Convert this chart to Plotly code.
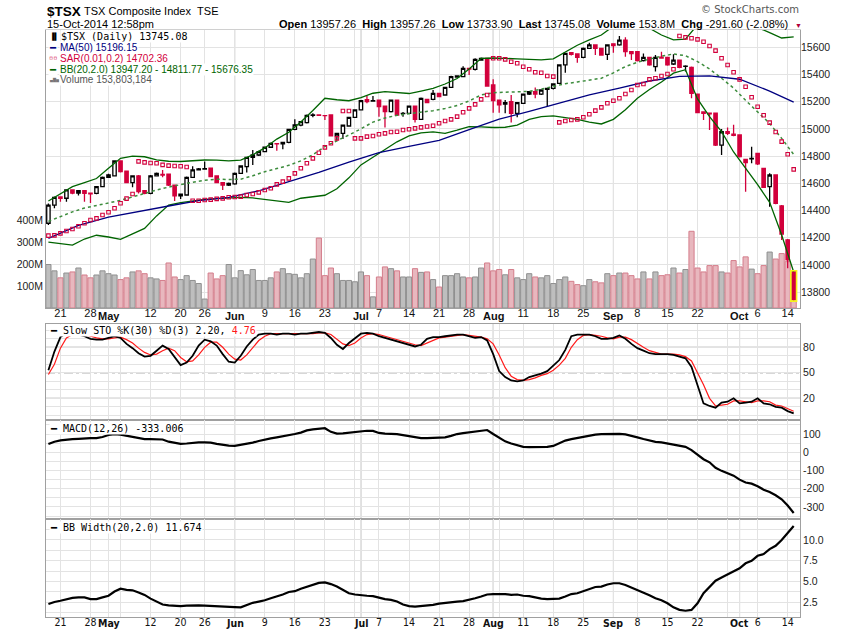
import pandas as pd
import plotly.graph_objects as go

# TSX trading days shown on the chart (16-Apr-2014 .. 15-Oct-2014)
holidays = ['2014-04-18', '2014-05-19', '2014-07-01', '2014-08-04', '2014-09-01', '2014-10-13']
dates = [d for d in pd.bdate_range('2014-04-16', '2014-10-15') if d.strftime('%Y-%m-%d') not in holidays]
pos = {d.strftime('%Y-%m-%d'): i for i, d in enumerate(dates)}
days = list(range(len(dates)))

tick_dates = ['2014-04-21', '2014-04-28', '2014-05-01', '2014-05-12', '2014-05-20', '2014-05-26',
              '2014-06-02', '2014-06-09', '2014-06-16', '2014-06-23', '2014-07-02', '2014-07-07',
              '2014-07-14', '2014-07-21', '2014-07-28', '2014-08-01', '2014-08-11', '2014-08-18',
              '2014-08-25', '2014-09-02', '2014-09-08', '2014-09-15', '2014-09-22', '2014-10-01',
              '2014-10-06', '2014-10-14']
tick_labels = ['21', '28', 'May', '12', '20', '26', 'Jun', '9', '16', '23', 'Jul', '7', '14', '21', '28',
               'Aug', '11', '18', '25', 'Sep', '8', '15', '22', 'Oct', '6', '14']
months = ['May', 'Jun', 'Jul', 'Aug', 'Sep', 'Oct']

# daily OHLC
opens = [14306, 14440, 14500, 14490, 14551, 14527, 14545, 14528, 14526, 14575,
         14644, 14655, 14764, 14690, 14605, 14654, 14545, 14526, 14654, 14665,
         14668, 14587, 14507, 14514, 14644, 14698, 14705, 14712, 14654, 14605,
         14587, 14595, 14673, 14722, 14791, 14808, 14833, 14865, 14892, 14889,
         14901, 14997, 15028, 15046, 15100, 15102, 15098, 15102, 14948, 14967,
         15021, 15085, 15139, 15215, 15205, 15212, 15168, 15127, 15212, 15112,
         15114, 15168, 15070, 15217, 15217, 15261, 15249, 15305, 15380, 15384,
         15445, 15438, 15505, 15519, 15323, 15212, 15183, 15200, 15114, 15188,
         15256, 15273, 15256, 15290, 15298, 15335, 15470, 15560, 15551, 15526,
         15592, 15617, 15592, 15548, 15625, 15617, 15653, 15568, 15568, 15502,
         15526, 15457, 15528, 15526, 15477, 15506, 15460, 15452, 15256, 15125,
         15115, 15115, 14881, 14980, 14962, 14955, 14776, 14780, 14820, 14710,
         14575, 14661, 14433, 14183, 13957.26]
highs = [14452, 14502, 14505, 14556, 14555, 14548, 14550, 14530, 14580, 14650,
         14670, 14770, 14766, 14692, 14658, 14660, 14548, 14660, 14680, 14698,
         14670, 14590, 14524, 14650, 14725, 14712, 14760, 14715, 14656, 14608,
         14605, 14680, 14730, 14795, 14845, 14840, 14870, 14900, 14895, 14905,
         15000, 15070, 15058, 15105, 15115, 15106, 15100, 15108, 14972, 15033,
         15090, 15145, 15212, 15242, 15242, 15215, 15170, 15215, 15215, 15125,
         15172, 15170, 15230, 15220, 15286, 15265, 15310, 15390, 15395, 15460,
         15450, 15520, 15525, 15522, 15364, 15215, 15212, 15249, 15198, 15260,
         15278, 15305, 15290, 15300, 15335, 15475, 15560, 15565, 15555, 15598,
         15634, 15620, 15595, 15622, 15630, 15683, 15673, 15572, 15572, 15555,
         15530, 15543, 15568, 15530, 15548, 15510, 15468, 15458, 15260, 15130,
         15120, 15118, 15000, 15011, 15030, 14960, 14780, 14869, 14825, 14715,
         14673, 14665, 14440, 14190, 13957.26]
lows = [14294, 14416, 14465, 14465, 14520, 14510, 14465, 14455, 14520, 14570,
        14640, 14650, 14680, 14600, 14570, 14525, 14520, 14520, 14650, 14644,
        14580, 14470, 14485, 14510, 14640, 14695, 14700, 14645, 14600, 14550,
        14580, 14590, 14668, 14680, 14735, 14800, 14828, 14860, 14840, 14850,
        14895, 14990, 15020, 15040, 15085, 15095, 15065, 14945, 14918, 14926,
        15015, 15080, 15135, 15188, 15200, 15090, 15011, 15120, 15095, 15090,
        15110, 15046, 15065, 15188, 15210, 15232, 15245, 15300, 15375, 15380,
        15396, 15430, 15500, 15310, 15119, 15119, 15115, 15046, 15085, 15183,
        15250, 15225, 15250, 15168, 15290, 15330, 15413, 15540, 15487, 15520,
        15588, 15543, 15538, 15506, 15560, 15612, 15531, 15506, 15495, 15495,
        15465, 15421, 15515, 15465, 15470, 15445, 15421, 15225, 15115, 15065,
        14992, 14875, 14808, 14955, 14945, 14790, 14538, 14747, 14735, 14565,
        14428, 14445, 14183, 13975, 13733.90]
closes = [14440, 14497, 14490, 14551, 14527, 14545, 14526, 14522, 14575, 14644,
          14661, 14764, 14685, 14605, 14654, 14538, 14526, 14654, 14673, 14661,
          14587, 14507, 14521, 14644, 14698, 14705, 14707, 14649, 14605, 14587,
          14600, 14673, 14727, 14791, 14808, 14833, 14865, 14894, 14889, 14901,
          14997, 15029, 15053, 15100, 15102, 15100, 15097, 14948, 14967, 15028,
          15085, 15139, 15207, 15200, 15207, 15163, 15127, 15212, 15102, 15114,
          15168, 15070, 15225, 15193, 15261, 15237, 15305, 15384, 15390, 15445,
          15440, 15511, 15519, 15315, 15207, 15176, 15193, 15114, 15193, 15256,
          15273, 15256, 15286, 15298, 15330, 15470, 15555, 15548, 15526, 15592,
          15617, 15592, 15543, 15617, 15612, 15653, 15568, 15553, 15502, 15526,
          15470, 15526, 15521, 15470, 15506, 15452, 15462, 15262, 15119, 15115,
          15110, 14881, 14979, 14967, 14953, 14796, 14752, 14783, 14742, 14570,
          14661, 14453, 14227, 14036.68, 13745.08]
volume_m = [199, 170, 138, 160, 165, 183, 151, 138, 151, 170,
            157, 151, 130, 138, 165, 170, 157, 138, 133, 126,
            206, 142, 130, 148, 126, 112, 41, 160, 133, 148,
            199, 138, 171, 152, 176, 126, 126, 138, 165, 180,
            157, 154, 138, 157, 224, 320, 148, 183, 157, 126,
            126, 120, 165, 148, 51, 142, 188, 180, 170, 142,
            142, 180, 163, 165, 130, 96, 148, 148, 157, 142,
            138, 142, 183, 206, 170, 176, 152, 176, 138, 130,
            157, 142, 138, 148, 112, 130, 142, 122, 107, 102,
            130, 120, 115, 157, 148, 160, 160, 148, 133, 165,
            133, 165, 148, 152, 183, 160, 176, 351, 183, 165,
            194, 194, 165, 160, 217, 188, 234, 178, 157, 194,
            256, 224, 249, 212, 153.803184]

# overlays
ma_days = list(range(0, 125, 5)) + [124]
ma50 = [14195, 14290, 14352, 14395, 14433, 14472, 14497, 14545, 14612, 14680,
        14755, 14825, 14872, 14916, 14994, 15072, 15128, 15188, 15250, 15300,
        15352, 15386, 15390, 15365, 15278, 15196.15]

bb_days = list(range(0, 125, 2))
bb_mid = [14320, 14355, 14390, 14418, 14435, 14455, 14475, 14500, 14528, 14550,
          14572, 14592, 14608, 14622, 14630, 14628, 14630, 14655, 14685, 14708,
          14732, 14765, 14810, 14870, 14910, 14955, 15000, 15050, 15080, 15100,
          15112, 15122, 15134, 15150, 15172, 15205, 15250, 15266, 15270, 15270,
          15276, 15292, 15312, 15332, 15345, 15358, 15372, 15412, 15458, 15490,
          15515, 15535, 15551, 15538, 15495, 15440, 15372, 15300, 15210, 15125,
          15040, 14930, 14811.77]
bb_upper = [14470, 14525, 14575, 14605, 14635, 14710, 14784, 14800, 14795, 14772,
            14762, 14760, 14765, 14771, 14770, 14765, 14770, 14810, 14860, 14925,
            14975, 15050, 15135, 15225, 15214, 15207, 15230, 15262, 15274, 15265,
            15260, 15278, 15298, 15330, 15370, 15440, 15519, 15521, 15520, 15515,
            15511, 15508, 15515, 15565, 15615, 15655, 15690, 15755, 15780, 15775,
            15740, 15690, 15654, 15660, 15765, 15800, 15800, 15800, 15790, 15745,
            15708, 15668, 15676.35]
bb_lower = [14168, 14155, 14146, 14190, 14218, 14205, 14188, 14228, 14268, 14360,
            14440, 14458, 14470, 14482, 14487, 14492, 14497, 14492, 14482, 14470,
            14460, 14490, 14500, 14512, 14560, 14640, 14735, 14793, 14850, 14905,
            14948, 14970, 14978, 14967, 14990, 15016, 15015, 15010, 15012, 15028,
            15070, 15090, 15095, 15085, 15070, 15050, 15036, 15070, 15140, 15225,
            15290, 15345, 15410, 15435, 15220, 15090, 14980, 14830, 14710, 14590,
            14460, 14220, 13947.20]

sar = [14215, 14217, 14232, 14249, 14264, 14284, 14306, 14330, 14342, 14367,
       14387, 14416, 14453, 14487, 14521, 14761, 14754, 14749, 14747, 14735,
       14730, 14727, 14725, 14720, 14472, 14472, 14477, 14480, 14485, 14489,
       14497, 14499, 14502, 14514, 14521, 14533, 14551, 14563, 14592, 14612,
       14636, 14673, 14710, 14747, 14783, 14825, 14864, 14894, 14930, 15131,
       15131, 14930, 14930, 14943, 14948, 14960, 14967, 14977, 14979, 14992,
       14997, 15004, 15011, 15018, 15023, 15041, 15058, 15070, 15090, 15122,
       15151, 15180, 15217, 15249, 15519, 15519, 15511, 15494, 15482, 15457,
       15438, 15416, 15413, 15389, 15384, 15048, 15058, 15065, 15070, 15085,
       15107, 15134, 15158, 15188, 15207, 15225, 15256, 15286, 15323, 15330,
       15364, 15372, 15389, 15403, 15438, 15683, 15673, 15666, 15658, 15641,
       15609, 15575, 15519, 15470, 15416, 15364, 15310, 15232, 15163, 15100,
       15046, 14977, 14906, 14813, 14702.36]

# indicator panels
sto_k = [53, 75, 92, 97, 96, 95, 93, 90, 89, 89,
         91, 93, 91, 84, 79, 73, 69, 70, 76, 82,
         78, 68, 59, 62, 70, 82, 89, 87, 82, 72,
         63, 62, 70, 81, 89, 95, 96, 96, 95, 96,
         96, 95, 96, 96, 97, 98, 97, 91, 83, 78,
         85, 91, 96, 97, 96, 93, 91, 89, 87, 85,
         83, 81, 83, 90, 92, 92, 93, 94, 95, 95,
         93, 91, 92, 88, 72, 52, 45, 41, 40, 41,
         45, 47, 49, 52, 58, 65, 77, 93, 95, 95,
         95, 93, 90, 90, 91, 94, 90, 84, 79, 76,
         73, 72, 72, 72, 71, 69, 67, 57, 36, 14,
         11, 9, 15, 16, 20, 14, 15, 16, 20, 14,
         13, 10, 9, 5, 2.20]
sto_d = [48, 60, 79, 91, 95, 96, 95, 93, 91, 90,
         90, 91, 92, 89, 85, 79, 74, 71, 72, 76,
         79, 76, 68, 63, 64, 71, 80, 86, 86, 80,
         72, 66, 65, 71, 80, 88, 93, 96, 96, 96,
         96, 96, 96, 96, 96, 97, 97, 95, 90, 84,
         82, 85, 91, 95, 96, 95, 93, 91, 89, 87,
         85, 83, 82, 85, 88, 91, 92, 93, 94, 95,
         94, 93, 92, 90, 84, 71, 56, 46, 42, 41,
         42, 44, 47, 49, 53, 59, 67, 80, 89, 94,
         95, 94, 93, 91, 90, 92, 92, 89, 84, 80,
         76, 74, 72, 72, 72, 71, 69, 64, 50, 36,
         20, 11, 12, 13, 17, 17, 16, 15, 17, 17,
         16, 12, 11, 8, 4.76]
macd = [45, 58, 65, 70, 72, 74, 77, 78, 78, 84,
        95, 100, 97, 91, 84, 77, 72, 72, 72, 70,
        58, 50, 46, 48, 52, 54, 54, 53, 46, 40,
        36, 35, 40, 46, 53, 62, 71, 76, 82, 87,
        92, 100, 108, 120, 126, 130, 132, 112, 102, 104,
        108, 112, 116, 118, 117, 106, 102, 101, 99, 94,
        88, 82, 78, 78, 79, 80, 82, 90, 100, 105,
        110, 113, 118, 122, 100, 80, 60, 48, 38, 30,
        28, 28, 28, 30, 35, 50, 64, 72, 78, 86,
        92, 97, 99, 100, 100, 101, 98, 92, 82, 73,
        63, 57, 54, 48, 41, 36, 30, 12, -14, -38,
        -55, -85, -102, -114, -128, -150, -166, -172, -186, -205,
        -218, -236, -258, -292, -333.006]
bb_width = [2.3, 2.55, 2.7, 2.85, 3.05, 3.1, 3.1, 2.9, 2.9, 3.1,
            3.3, 3.8, 4.15, 4.0, 3.95, 3.7, 3.4, 2.95, 2.55, 2.25,
            2.15, 2.1, 2.05, 2.1, 2.15, 2.15, 2.1, 2.05, 2.0, 2.0,
            1.95, 1.92, 1.9, 2.15, 2.45, 2.6, 2.75, 3.0, 3.2, 3.45,
            3.75, 3.85, 4.15, 4.4, 4.65, 4.85, 4.9, 4.7, 4.4, 4.0,
            3.6, 3.45, 3.35, 3.3, 3.25, 3.05, 2.9, 2.8, 2.6, 2.25,
            2.05, 2.0, 2.05, 2.15, 2.2, 2.35, 2.45, 2.55, 2.6, 2.65,
            2.8, 3.0, 3.2, 3.45, 3.5, 3.5, 3.5, 3.4, 3.45, 3.3,
            3.25, 3.1, 2.95, 2.9, 2.9, 2.95, 3.2, 3.5, 3.6, 3.85,
            4.1, 4.35, 4.4, 4.65, 4.8, 4.8, 4.6, 4.3, 3.95, 3.65,
            3.35, 3.0, 2.75, 2.4, 1.9, 1.6, 1.5, 1.6, 2.4, 3.6,
            4.3, 5.1, 5.5, 5.9, 6.2, 6.6, 7.2, 7.5, 8.1, 8.3,
            8.9, 9.3, 10.0, 10.9, 11.674]

RED = '#D2003C'
NAVY = '#000080'
GREEN = '#006400'
GRID = '#E3E3E3'
MONTHGRID = '#B8B8B8'
BORDER = '#A0A0A0'
SANS = 'Liberation Sans, Arial, sans-serif'
NARROW = 'DejaVu Sans Condensed, Liberation Sans Narrow, Arial Narrow, sans-serif'
MONO = 'DejaVu Sans Mono, monospace'
DEJAVU = 'DejaVu Sans, Verdana, sans-serif'

# page layout in pixels
W, H = 850, 633
L, R, T, B = 46, 800, 30, 617


def xp(px):
    return (px - L) / (R - L)


def yp(py):
    return (B - py) / (B - T)


main_dom = [yp(308), 1.0]
sto_dom = [yp(420), yp(324)]
macd_dom = [yp(519), yp(420)]
bbw_dom = [0.0, yp(519)]

tick_pos = [pos[d] for d in tick_dates]
# month names are written separately in bold, the axis only carries the day numbers
tick_text = ['' if t in months else t for t in tick_labels]

week_starts, month_starts = [], []
for i, d in enumerate(dates):
    if i == 0:
        continue
    if d.isocalendar()[1] != dates[i - 1].isocalendar()[1]:
        week_starts.append(i)
    if d.month != dates[i - 1].month:
        month_starts.append(i)

up = [i == 0 or closes[i] >= closes[i - 1] for i in days]

fig = go.Figure()

# volume (base axis of the main panel, drawn underneath)
fig.add_trace(go.Bar(
    x=days, y=volume_m, width=0.86, xaxis='x', yaxis='y',
    marker=dict(color=['#BEBEBE' if u else '#E8B7BE' for u in up],
                line=dict(color=['#8F8F8F' if u else '#D47D8B' for u in up], width=1)),
    hoverinfo='skip'))


def candles(sel, color):
    ids = [i for i in days if sel(i)]
    return go.Candlestick(
        x=ids, open=[opens[i] for i in ids], high=[highs[i] for i in ids],
        low=[lows[i] for i in ids], close=[closes[i] for i in ids],
        xaxis='x', yaxis='y5', whiskerwidth=0, hoverinfo='skip',
        increasing=dict(line=dict(color=color, width=1.3), fillcolor='white'),
        decreasing=dict(line=dict(color=color, width=1.3), fillcolor=color))


fig.add_trace(candles(lambda i: up[i], 'black'))
fig.add_trace(candles(lambda i: not up[i], RED))

fig.add_trace(go.Scatter(x=bb_days, y=bb_upper, mode='lines', line=dict(color=GREEN, width=1.3),
                         xaxis='x', yaxis='y5', hoverinfo='skip'))
fig.add_trace(go.Scatter(x=bb_days, y=bb_lower, mode='lines', line=dict(color=GREEN, width=1.3),
                         xaxis='x', yaxis='y5', hoverinfo='skip'))
fig.add_trace(go.Scatter(x=bb_days, y=bb_mid, mode='lines', line=dict(color='#3C8C3C', width=1.5, dash='dot'),
                         xaxis='x', yaxis='y5', hoverinfo='skip'))
fig.add_trace(go.Scatter(x=ma_days, y=ma50, mode='lines', line=dict(color=NAVY, width=1.3),
                         xaxis='x', yaxis='y5', hoverinfo='skip'))
fig.add_trace(go.Scatter(x=days, y=sar, mode='markers',
                         marker=dict(symbol='square-open', size=3.5, color=RED, line=dict(width=1.1)),
                         xaxis='x', yaxis='y5', hoverinfo='skip'))

# slow stochastics
fig.add_trace(go.Scatter(x=days, y=sto_d, mode='lines', line=dict(color='#FF1A1A', width=1.2),
                         xaxis='x2', yaxis='y2', hoverinfo='skip'))
fig.add_trace(go.Scatter(x=days, y=sto_k, mode='lines', line=dict(color='black', width=1.8),
                         xaxis='x2', yaxis='y2', hoverinfo='skip'))
# MACD
fig.add_trace(go.Scatter(x=days, y=macd, mode='lines', line=dict(color='black', width=2.2),
                         xaxis='x3', yaxis='y3', hoverinfo='skip'))
# BB width
fig.add_trace(go.Scatter(x=days, y=bb_width, mode='lines', line=dict(color='black', width=2.2),
                         xaxis='x4', yaxis='y4', hoverinfo='skip'))

xbase = dict(range=[-0.4, 125.05], tickmode='array', tickvals=tick_pos, ticktext=tick_text,
             showgrid=True, gridcolor=GRID, zeroline=False, ticks='', automargin=False,
             showline=True, linecolor=BORDER, mirror=True, fixedrange=True,
             minor=dict(tickmode='array', tickvals=week_starts, showgrid=True, gridcolor=GRID, ticks=''),
             rangeslider=dict(visible=False))
ybase = dict(showline=True, linecolor=BORDER, mirror=True, zeroline=False, ticks='', fixedrange=True,
             automargin=False, tickfont=dict(family=SANS, size=10.5, color='#222222'))

macd_ticks = [-300, -200, -100, 0, 100]

fig.update_layout(
    width=W, height=H, margin=dict(l=L, r=W - R, t=T, b=H - B, autoexpand=False),
    paper_bgcolor='white', plot_bgcolor='white', showlegend=False, boxgap=0.2,
    xaxis=dict(xbase, anchor='y', showticklabels=True, ticklabelstandoff=-5,
               tickfont=dict(family=SANS, size=11, color='#111111')),
    xaxis2=dict(xbase, anchor='y2', matches='x', showticklabels=False),
    xaxis3=dict(xbase, anchor='y3', matches='x', showticklabels=False),
    xaxis4=dict(xbase, anchor='y4', matches='x', showticklabels=True, ticklabelstandoff=-5,
                tickfont=dict(family=NARROW, size=10.5, color='#111111')),
    yaxis=dict(ybase, domain=main_dom, side='left', range=[0, 1272], showgrid=False,
               tickmode='array', tickvals=[100, 200, 300, 400], ticktext=['100M', '200M', '300M', '400M']),
    yaxis5=dict(ybase, overlaying='y', anchor='x', side='right', range=[13683, 15727],
                tick0=13800, dtick=200, tickformat='d', showgrid=True, gridcolor=GRID, showline=False),
    yaxis2=dict(ybase, domain=sto_dom, anchor='x2', side='right', range=[-5.5, 107.4], showgrid=False,
                tickmode='array', tickvals=[20, 50, 80],
                minor=dict(tickmode='linear', tick0=0, dtick=10, showgrid=True, gridcolor=GRID, ticks='')),
    yaxis3=dict(ybase, domain=macd_dom, anchor='x3', side='right', range=[-366, 177],
                tickmode='array', tickvals=macd_ticks, ticktext=[str(v) for v in macd_ticks],
                showgrid=True, gridcolor=GRID,
                minor=dict(tickmode='linear', tick0=0, dtick=50, showgrid=True, gridcolor=GRID, ticks='')),
    yaxis4=dict(ybase, domain=bbw_dom, anchor='x4', side='right', range=[0.745, 12.52],
                tickmode='array', tickvals=[2.5, 5, 7.5, 10], ticktext=['2.5', '5.0', '7.5', '10.0'],
                showgrid=True, gridcolor=GRID,
                minor=dict(tickmode='linear', tick0=0, dtick=1.25, showgrid=True, gridcolor=GRID, ticks='')),
)

shapes = []
for m in month_starts:
    for dom in (main_dom, sto_dom, macd_dom, bbw_dom):
        shapes.append(dict(type='line', xref='x', yref='paper', x0=m, x1=m, y0=dom[0], y1=dom[1],
                           line=dict(color=MONTHGRID, width=1), layer='below'))
for lvl, dash in ((80, 'solid'), (50, 'dashdot'), (20, 'solid')):
    shapes.append(dict(type='line', xref='x2 domain', yref='y2', x0=0, x1=1, y0=lvl, y1=lvl,
                       line=dict(color='#7A7A7A', width=1, dash=dash), layer='below'))
last = days[-1]
shapes.append(dict(type='rect', xref='x', yref='y5', x0=last - 0.48, x1=last + 0.48,
                   y0=lows[-1], y1=opens[-1], line=dict(color='#F5F51A', width=1.6),
                   fillcolor='rgba(0,0,0,0)', layer='above'))
# the overlaid price traces are not clipped at the panel top: mask the header strip
shapes.append(dict(type='rect', xref='paper', yref='paper', x0=-0.02, x1=1.02, y0=yp(29.4), y1=yp(0),
                   line=dict(width=0), fillcolor='white', layer='above'))
fig.update_layout(shapes=shapes)


def note(px, py, text, size=10, color='black', family=SANS, anchor='left', bg=None):
    a = dict(xref='paper', yref='paper', x=xp(px), y=yp(py), text=text, showarrow=False,
             xanchor=anchor, yanchor='middle', font=dict(family=family, size=size, color=color),
             borderpad=0)
    if bg:
        a['bgcolor'] = bg
    return a


chg = closes[-1] - closes[-2]
pct = chg / closes[-2] * 100
sp = '\u00a0'
header = ('<b>Open</b> %.2f%s<b>High</b> %.2f%s<b>Low</b> %.2f%s<b>Last</b> %.2f%s'
          '<b>Volume</b> %.1fM%s<b>Chg</b> %.2f (%.2f%%)'
          % (opens[-1], sp * 2, highs[-1], sp * 2, lows[-1], sp * 2, closes[-1], sp * 2,
             volume_m[-1], sp * 2, chg, pct))

ann = [
    note(46, 11, '<b>$TSX</b>', size=13.5),
    note(83, 11, 'TSX Composite Index%sTSE' % (sp * 2), size=11),
    note(46, 24, '15-Oct-2014 12:58pm', size=11),
    note(789, 24, header, size=11, anchor='right'),
    note(794, 25, '\u25bc', size=7, color='#B0003A', anchor='left'),
    note(800, 10, '\u00a9 StockCharts.com', size=10, color='#555555', family=DEJAVU, anchor='right'),
    # price panel legend
    note(49, 36, '\u2590\u258c', size=7, family=MONO, bg='white'),
    note(60, 36, '$TSX (Daily) %.2f' % closes[-1], size=10, family=MONO, bg='white'),
    note(48, 47, '\u2501', size=10, color=NAVY, family=MONO, bg='white'),
    note(59, 47, 'MA(50) %.2f' % ma50[-1], size=10, color=NAVY, bg='white'),
    note(48, 58, '\u25ab\u25ab', size=7, color=RED, family=MONO, bg='white'),
    note(59, 58, 'SAR(0.01,0.2) %.2f' % sar[-1], size=10, color=RED, bg='white'),
    note(48, 69, '\u2501', size=10, color=GREEN, family=MONO, bg='white'),
    note(59, 69, 'BB(20,2.0) %.2f - %.2f - %.2f' % (bb_lower[-1], bb_mid[-1], bb_upper[-1]),
         size=10, color=GREEN, bg='white'),
    note(48, 80, '\u2583\u2586\u2584', size=5, color='#777777', family=MONO, bg='white'),
    note(59, 80, 'Volume {:,.0f}'.format(volume_m[-1] * 1e6), size=10, color='#555555', bg='white'),
    # indicator labels
    note(49, 330, '\u2501 Slow STO %%K(30) %%D(3) %.2f, <span style="color:#FF1A1A">%.2f</span>'
         % (sto_k[-1], sto_d[-1]), size=10, family=MONO, bg='white'),
    note(49, 428, '\u2501 MACD(12,26) %.3f' % macd[-1], size=10, family=MONO, bg='white'),
    note(49, 527, '\u2501 BB Width(20,2.0) %.3f' % bb_width[-1], size=10, family=MONO, bg='white'),
]
# bold month names under the price panel and under the bottom panel
for p, t in zip(tick_pos, tick_labels):
    if t in months:
        for py, fam, size in ((316, SANS, 11), (623, NARROW, 10.5)):
            ann.append(dict(xref='x', yref='paper', x=p, y=yp(py), text='<b>%s</b>' % t,
                            showarrow=False, xanchor='center', yanchor='middle',
                            font=dict(family=fam, size=size, color='#111111')))
fig.update_layout(annotations=ann)

fig.write_html("out.html", config={'displayModeBar': False},
               post_script="document.body.style.margin='0';")
